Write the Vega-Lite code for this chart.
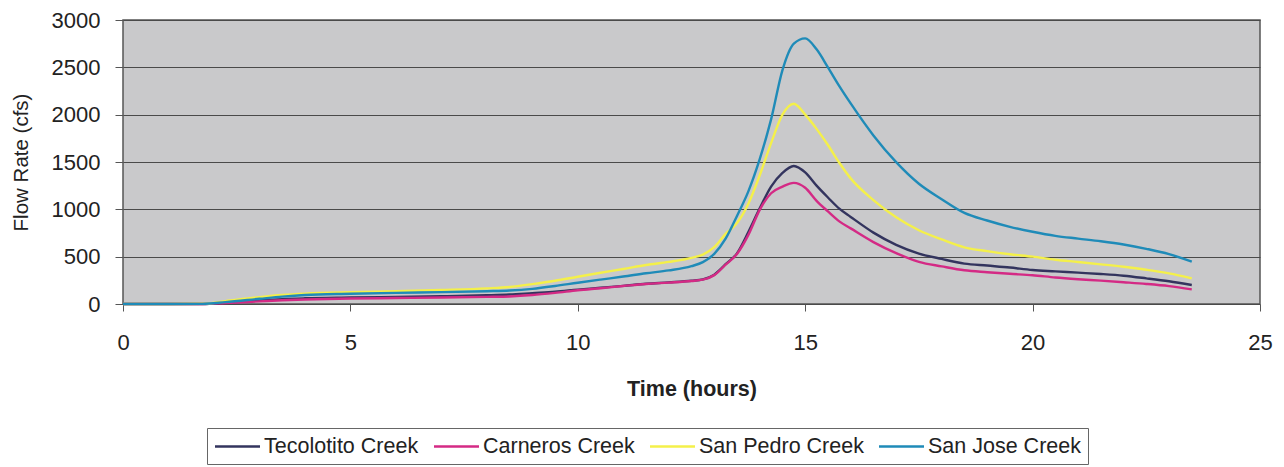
{
  "$schema": "https://vega.github.io/schema/vega-lite/v6.json",
  "width": 1137,
  "height": 284,
  "autosize": "none",
  "padding": {"left": 123, "top": 20, "right": 24, "bottom": 163},
  "background": "#ffffff",
  "config": {
    "font": "Liberation Sans",
    "view": {"fill": "#c9c9cb", "stroke": "#555555", "strokeWidth": 1.5}
  },
  "data": {
    "values": [
      {"t": 0, "Tecolotito Creek": 0, "Carneros Creek": 0, "San Pedro Creek": 0, "San Jose Creek": 0},
      {"t": 1, "Tecolotito Creek": 0, "Carneros Creek": 0, "San Pedro Creek": 0, "San Jose Creek": 0},
      {"t": 1.75, "Tecolotito Creek": 0, "Carneros Creek": 0, "San Pedro Creek": 2, "San Jose Creek": 1},
      {"t": 2.25, "Tecolotito Creek": 12, "Carneros Creek": 10, "San Pedro Creek": 30, "San Jose Creek": 20},
      {"t": 3, "Tecolotito Creek": 38, "Carneros Creek": 28, "San Pedro Creek": 72, "San Jose Creek": 55},
      {"t": 3.5, "Tecolotito Creek": 52, "Carneros Creek": 40, "San Pedro Creek": 95, "San Jose Creek": 78},
      {"t": 4, "Tecolotito Creek": 60, "Carneros Creek": 48, "San Pedro Creek": 110, "San Jose Creek": 95},
      {"t": 5, "Tecolotito Creek": 68, "Carneros Creek": 58, "San Pedro Creek": 125, "San Jose Creek": 108},
      {"t": 6, "Tecolotito Creek": 75, "Carneros Creek": 63, "San Pedro Creek": 135, "San Jose Creek": 118},
      {"t": 7, "Tecolotito Creek": 82, "Carneros Creek": 68, "San Pedro Creek": 148, "San Jose Creek": 125},
      {"t": 8, "Tecolotito Creek": 92, "Carneros Creek": 75, "San Pedro Creek": 165, "San Jose Creek": 135},
      {"t": 8.5, "Tecolotito Creek": 100, "Carneros Creek": 80, "San Pedro Creek": 180, "San Jose Creek": 142},
      {"t": 9, "Tecolotito Creek": 115, "Carneros Creek": 95, "San Pedro Creek": 210, "San Jose Creek": 160},
      {"t": 9.5, "Tecolotito Creek": 130, "Carneros Creek": 118, "San Pedro Creek": 245, "San Jose Creek": 190},
      {"t": 10, "Tecolotito Creek": 152, "Carneros Creek": 145, "San Pedro Creek": 288, "San Jose Creek": 225},
      {"t": 10.5, "Tecolotito Creek": 172, "Carneros Creek": 167, "San Pedro Creek": 330, "San Jose Creek": 258},
      {"t": 11, "Tecolotito Creek": 192, "Carneros Creek": 190, "San Pedro Creek": 370, "San Jose Creek": 290},
      {"t": 11.5, "Tecolotito Creek": 214, "Carneros Creek": 212, "San Pedro Creek": 412, "San Jose Creek": 325},
      {"t": 12, "Tecolotito Creek": 228, "Carneros Creek": 226, "San Pedro Creek": 445, "San Jose Creek": 355},
      {"t": 12.5, "Tecolotito Creek": 245, "Carneros Creek": 243, "San Pedro Creek": 488, "San Jose Creek": 400},
      {"t": 12.75, "Tecolotito Creek": 260, "Carneros Creek": 257, "San Pedro Creek": 522, "San Jose Creek": 442},
      {"t": 13, "Tecolotito Creek": 310, "Carneros Creek": 305, "San Pedro Creek": 600, "San Jose Creek": 530},
      {"t": 13.25, "Tecolotito Creek": 420, "Carneros Creek": 415, "San Pedro Creek": 740, "San Jose Creek": 690},
      {"t": 13.5, "Tecolotito Creek": 535, "Carneros Creek": 528, "San Pedro Creek": 855, "San Jose Creek": 930},
      {"t": 13.75, "Tecolotito Creek": 760, "Carneros Creek": 730, "San Pedro Creek": 1060, "San Jose Creek": 1190},
      {"t": 14, "Tecolotito Creek": 1010, "Carneros Creek": 995, "San Pedro Creek": 1360, "San Jose Creek": 1530},
      {"t": 14.25, "Tecolotito Creek": 1240, "Carneros Creek": 1170, "San Pedro Creek": 1700, "San Jose Creek": 1950},
      {"t": 14.5, "Tecolotito Creek": 1385, "Carneros Creek": 1240, "San Pedro Creek": 2000, "San Jose Creek": 2470},
      {"t": 14.75, "Tecolotito Creek": 1458, "Carneros Creek": 1280, "San Pedro Creek": 2115, "San Jose Creek": 2750},
      {"t": 15, "Tecolotito Creek": 1390, "Carneros Creek": 1228, "San Pedro Creek": 2000, "San Jose Creek": 2806},
      {"t": 15.25, "Tecolotito Creek": 1250, "Carneros Creek": 1090, "San Pedro Creek": 1850, "San Jose Creek": 2690},
      {"t": 15.5, "Tecolotito Creek": 1125, "Carneros Creek": 978, "San Pedro Creek": 1680, "San Jose Creek": 2500},
      {"t": 15.75, "Tecolotito Creek": 1007, "Carneros Creek": 873, "San Pedro Creek": 1492, "San Jose Creek": 2302},
      {"t": 16, "Tecolotito Creek": 920, "Carneros Creek": 799, "San Pedro Creek": 1327, "San Jose Creek": 2119},
      {"t": 16.5, "Tecolotito Creek": 754, "Carneros Creek": 654, "San Pedro Creek": 1098, "San Jose Creek": 1781},
      {"t": 17, "Tecolotito Creek": 625, "Carneros Creek": 537, "San Pedro Creek": 916, "San Jose Creek": 1498},
      {"t": 17.5, "Tecolotito Creek": 533, "Carneros Creek": 446, "San Pedro Creek": 779, "San Jose Creek": 1270},
      {"t": 18, "Tecolotito Creek": 476, "Carneros Creek": 398, "San Pedro Creek": 682, "San Jose Creek": 1107},
      {"t": 18.5, "Tecolotito Creek": 427, "Carneros Creek": 356, "San Pedro Creek": 599, "San Jose Creek": 962},
      {"t": 19, "Tecolotito Creek": 406, "Carneros Creek": 336, "San Pedro Creek": 559, "San Jose Creek": 882},
      {"t": 19.5, "Tecolotito Creek": 385, "Carneros Creek": 319, "San Pedro Creek": 526, "San Jose Creek": 815},
      {"t": 20, "Tecolotito Creek": 359, "Carneros Creek": 304, "San Pedro Creek": 500, "San Jose Creek": 763},
      {"t": 20.5, "Tecolotito Creek": 345, "Carneros Creek": 280, "San Pedro Creek": 468, "San Jose Creek": 720},
      {"t": 21, "Tecolotito Creek": 331, "Carneros Creek": 262, "San Pedro Creek": 444, "San Jose Creek": 691},
      {"t": 21.5, "Tecolotito Creek": 317, "Carneros Creek": 247, "San Pedro Creek": 419, "San Jose Creek": 663},
      {"t": 22, "Tecolotito Creek": 299, "Carneros Creek": 230, "San Pedro Creek": 393, "San Jose Creek": 629},
      {"t": 22.5, "Tecolotito Creek": 271, "Carneros Creek": 212, "San Pedro Creek": 362, "San Jose Creek": 583},
      {"t": 23, "Tecolotito Creek": 240, "Carneros Creek": 189, "San Pedro Creek": 324, "San Jose Creek": 527},
      {"t": 23.5, "Tecolotito Creek": 201, "Carneros Creek": 155, "San Pedro Creek": 271, "San Jose Creek": 447}
    ]
  },
  "transform": [
    {"fold": ["Tecolotito Creek", "Carneros Creek", "San Pedro Creek", "San Jose Creek"], "as": ["creek", "q"]}
  ],
  "mark": {"type": "line", "interpolate": "monotone", "strokeWidth": 2.4},
  "encoding": {
    "x": {
      "field": "t",
      "type": "quantitative",
      "scale": {"domain": [0, 25], "nice": false},
      "axis": {
        "title": "Time (hours)",
        "titleFontSize": 21.5,
        "titleFontWeight": "bold",
        "titleColor": "#222222",
        "titlePadding": 25,
        "values": [0, 5, 10, 15, 20, 25],
        "labelFontSize": 22,
        "labelColor": "#222222",
        "labelPadding": 21,
        "labelFlush": false,
        "grid": false,
        "domain": false,
        "tickColor": "#555555",
        "tickSize": 7
      }
    },
    "y": {
      "field": "q",
      "type": "quantitative",
      "scale": {"domain": [0, 3000], "nice": false},
      "axis": {
        "title": "Flow Rate (cfs)",
        "titleFontSize": 20.5,
        "titleFontWeight": "normal",
        "titleColor": "#222222",
        "titlePadding": 20,
        "values": [0, 500, 1000, 1500, 2000, 2500, 3000],
        "format": "d",
        "labelFontSize": 22,
        "labelColor": "#222222",
        "labelPadding": 15,
        "grid": true,
        "gridColor": "#4a4a4a",
        "gridWidth": 1.2,
        "gridOpacity": 1,
        "domain": false,
        "tickColor": "#555555",
        "tickSize": 8
      }
    },
    "color": {
      "field": "creek",
      "type": "nominal",
      "sort": ["Tecolotito Creek", "Carneros Creek", "San Pedro Creek", "San Jose Creek"],
      "scale": {
        "domain": ["Tecolotito Creek", "Carneros Creek", "San Pedro Creek", "San Jose Creek"],
        "range": ["#33345e", "#d42a85", "#f4f04a", "#1f8bb8"]
      },
      "legend": {
        "title": null,
        "orient": "none",
        "legendX": 84,
        "legendY": 408,
        "direction": "horizontal",
        "columns": 4,
        "symbolType": "M-2.25,0H2.25",
        "symbolSize": 400,
        "symbolOffset": 12,
        "symbolStrokeWidth": 2.4,
        "labelFontSize": 21.5,
        "labelLimit": 400,
        "labelColor": "#222222",
        "labelOffset": 15,
        "columnPadding": 10,
        "strokeColor": "#666666",
        "fillColor": "#ffffff",
        "padding": 7
      }
    }
  }
}
